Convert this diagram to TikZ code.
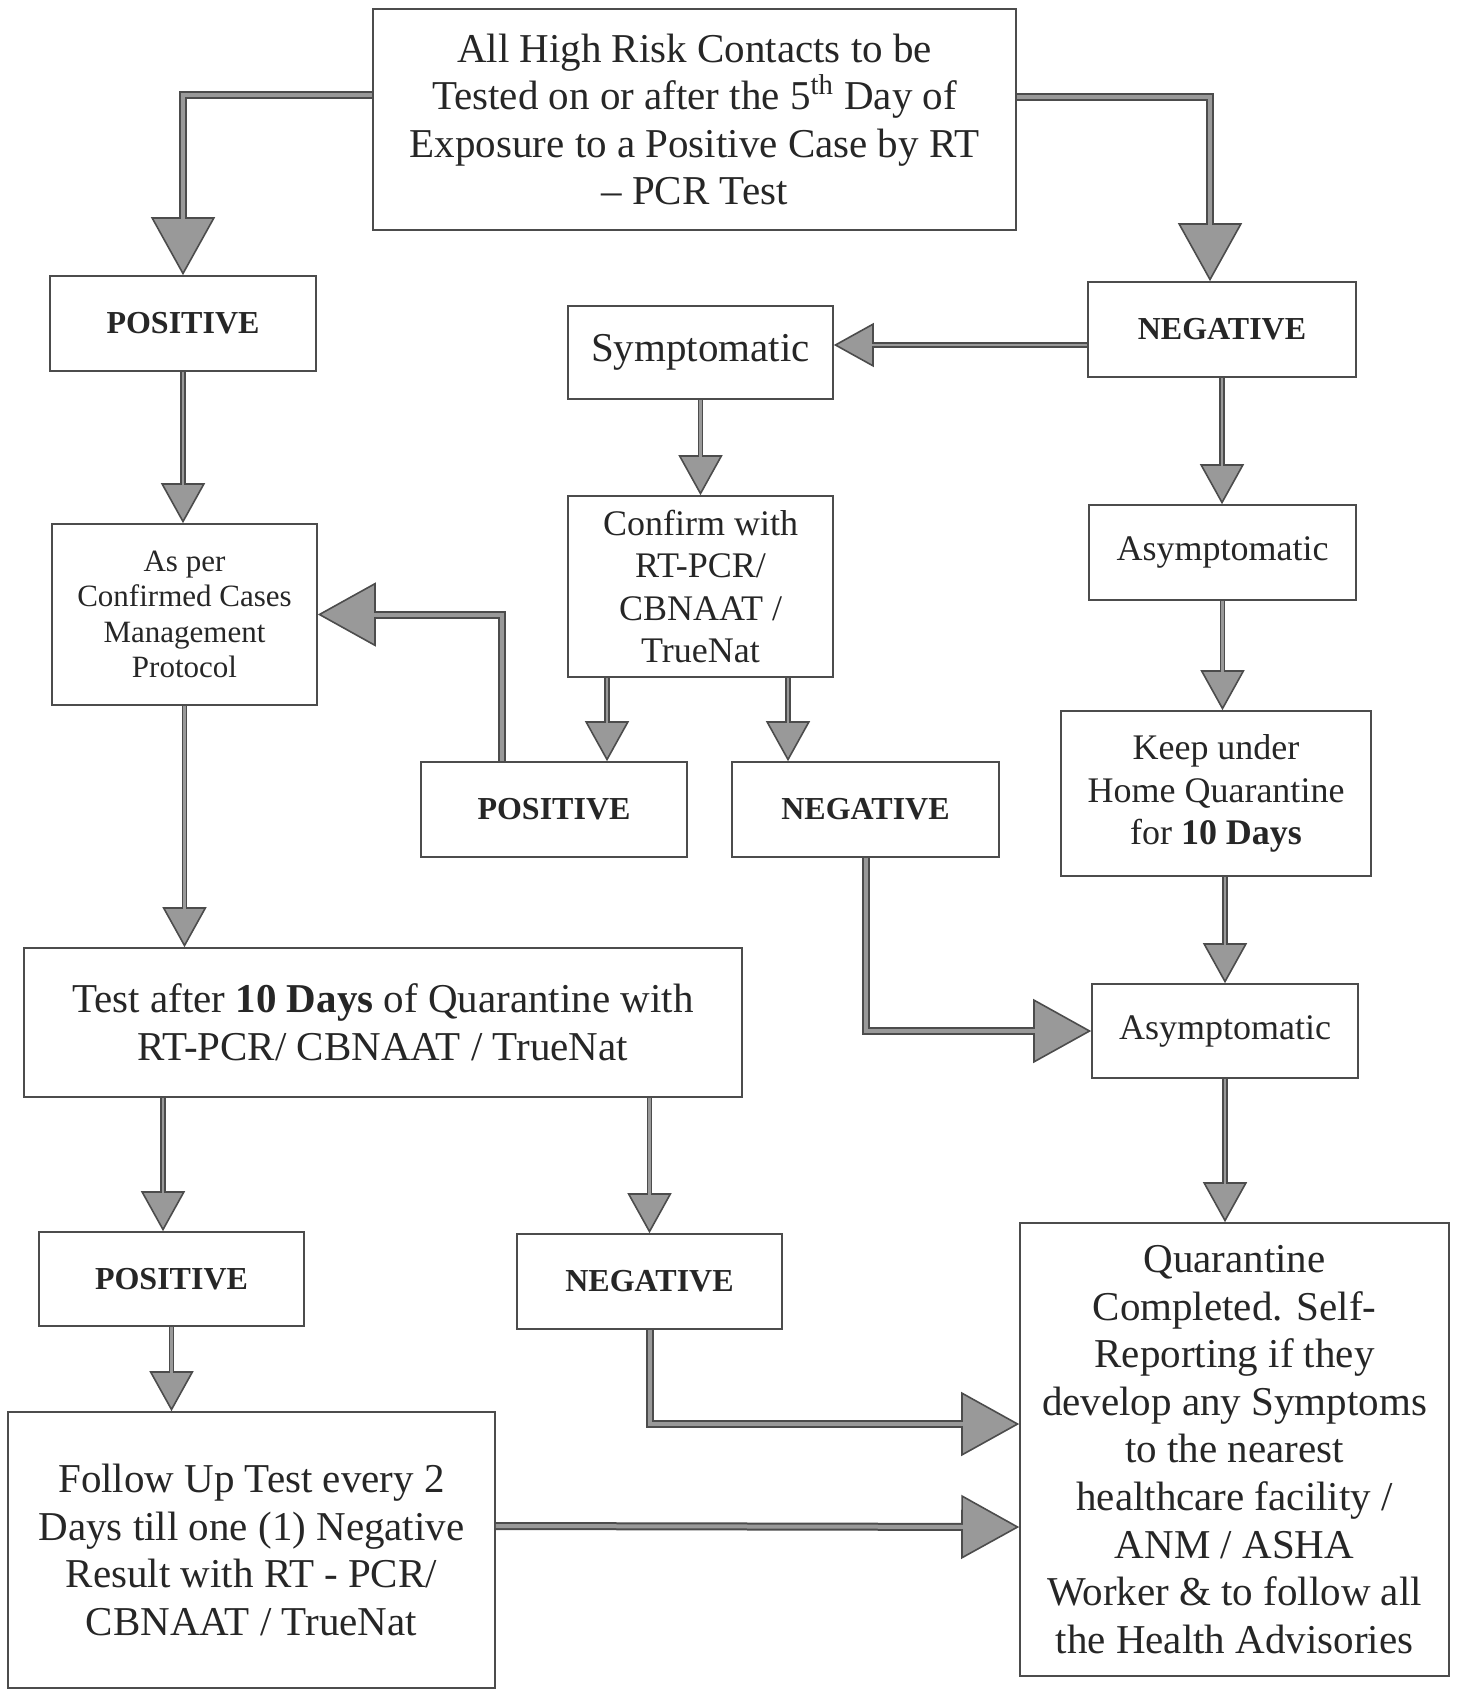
\documentclass[tikz,border=0pt]{standalone}
\usepackage{fontspec}
\setmainfont{Liberation Serif}
\usetikzlibrary{arrows.meta}

\begin{document}
\begin{tikzpicture}[x=.5pt, y=-.5pt,
    bigtext/.style={font=\fontsize{20.5pt}{23.8pt}\selectfont},
    midtext/.style={font=\fontsize{18pt}{21.3pt}\selectfont},
    smalltext/.style={font=\fontsize{15.5pt}{17.8pt}\selectfont},
    result/.style={font=\fontsize{16pt}{19pt}\selectfont\bfseries},
    flow/.style={draw=black!70, line width=2.6pt,
      -{Triangle[length=20pt, width=22pt, fill=black!40, line width=.8pt]},
      postaction={draw=black!40, line width=1.1pt, -, shorten >=19pt}},
    bigflow/.style={draw=black!70, line width=4pt,
      -{Triangle[length=29pt, width=32pt, fill=black!40, line width=.8pt]},
      postaction={draw=black!40, line width=2pt, -, shorten >=28pt}}]

        \useasboundingbox (0,0) rectangle (1460,1690);

        \begin{scope}[every node/.style={draw=black!70, line width=.8pt, inner sep=0pt, align=center, text=black!85}]
          \node[bigtext, minimum width=321.5pt, minimum height=110.5pt] (top) at (694.5,119.5)
            {All High Risk Contacts to be\\Tested on or after the 5\textsuperscript{th} Day of\\Exposure to a Positive Case by RT\\– PCR Test};
          \node[result, minimum width=133pt, minimum height=47.5pt] (pos1) at (183,323.5) {POSITIVE};
          \node[bigtext, minimum width=132.5pt, minimum height=46.5pt] (symp) at (700.5,352.5) {Symptomatic};
          \node[result, minimum width=134pt, minimum height=47.5pt] (neg1) at (1222,329.5) {NEGATIVE};
          \node[smalltext, minimum width=132.5pt, minimum height=90.5pt] (protocol) at (184.5,614.5)
            {As per\\Confirmed Cases\\Management\\Protocol};
          \node[midtext, minimum width=132.5pt, minimum height=90.5pt] (confirm) at (700.5,586.5)
            {Confirm with\\RT-PCR/\\CBNAAT /\\TrueNat};
          \node[midtext, minimum width=133.5pt, minimum height=47.5pt] (asym1) at (1222.5,552.5) {Asymptomatic};
          \node[result, minimum width=133pt, minimum height=47.5pt] (pos2) at (554,809.5) {POSITIVE};
          \node[result, minimum width=133.5pt, minimum height=47.5pt] (neg2) at (865.5,809.5) {NEGATIVE};
          \node[midtext, minimum width=155pt, minimum height=82.5pt] (home) at (1216,793.5)
            {Keep under\\Home Quarantine\\for \textbf{10 Days}};
          \node[bigtext, minimum width=359pt, minimum height=74.5pt] (retest) at (383,1022.5)
            {Test after \textbf{10 Days} of Quarantine with\\RT-PCR/ CBNAAT / TrueNat};
          \node[midtext, minimum width=133pt, minimum height=47pt] (asym2) at (1225,1031) {Asymptomatic};
          \node[result, minimum width=132.5pt, minimum height=47pt] (pos3) at (171.5,1279) {POSITIVE};
          \node[result, minimum width=132.5pt, minimum height=47.5pt] (neg3) at (649.5,1281.5) {NEGATIVE};
          \node[bigtext, minimum width=243.5pt, minimum height=138pt] (followup) at (251.5,1550)
            {Follow Up Test every 2\\Days till one (1) Negative\\Result with RT - PCR/\\CBNAAT / TrueNat};
          \node[bigtext, minimum width=214.5pt, minimum height=226.5pt] (done) at (1234.5,1449.5)
            {Quarantine\\Completed. Self-\\Reporting if they\\develop any Symptoms\\to the nearest\\healthcare facility /\\ANM / ASHA\\Worker \& to follow all\\the Health Advisories};
        \end{scope}

        \draw[bigflow] ([yshift=12pt]top.west) -| (pos1);
        \draw[bigflow] ([yshift=11pt]top.east) -| ([xshift=-6pt]neg1.north);
        \draw[flow] ([yshift=-7.75pt]neg1.west) -- ([yshift=3.75pt]symp.east);
        \draw[flow] (pos1.south) -- (pos1.south |- protocol.north);
        \draw[flow] (symp) -- (confirm);
        \draw[flow] (neg1.south) -- (neg1.south |- asym1.north);
        \draw[flow] ([xshift=-46.75pt]confirm.south) -- ([xshift=26.5pt]pos2.north);
        \draw[flow] ([xshift=43.75pt]confirm.south) -- ([xshift=-38.75pt]neg2.north);
        \draw[bigflow] ([xshift=-26pt]pos2.north) |- (protocol);
        \draw[flow] (asym1.south) -- (asym1.south |- home.north);
        \draw[flow] (protocol.south) -- (protocol.south |- retest.north);
        \draw[bigflow] (neg2.south) |- (asym2);
        \draw[flow] (asym2.north |- home.south) -- (asym2.north);
        \draw[flow] (asym2.south) -- (asym2.south |- done.north);
        \draw[flow] ([xshift=-110pt]retest.south) -- ([xshift=-4.25pt]pos3.north);
        \draw[flow] (neg3.north |- retest.south) -- (neg3.north);
        \draw[flow] (pos3.south) -- (pos3.south |- followup.north);
        \draw[bigflow] (neg3.south) |- ([yshift=12.75pt]done.west);
        \draw[bigflow] ([yshift=12pt]followup.east) -- ([yshift=-38.75pt]done.west);

      \end{tikzpicture}
\end{document}
